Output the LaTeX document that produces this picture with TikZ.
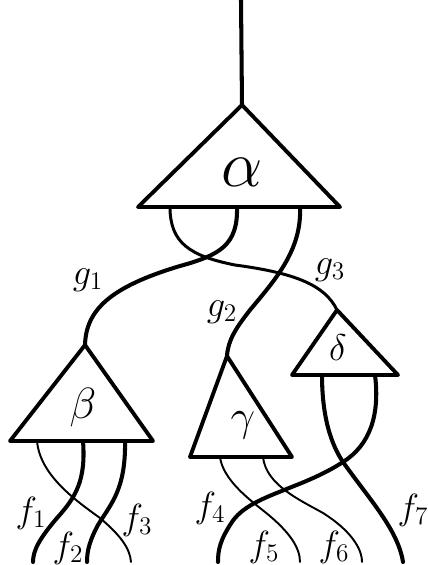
\documentclass[tikz,border=0pt]{standalone}
\usepackage{amsmath}
\usepackage{tikz}

\begin{document}
\begin{tikzpicture}[
        x=0.02cm, y=-0.02cm,
        tri/.style={line width=2.2pt, line join=round},
        strand/.style={line width=2.3pt, line cap=round},
        thinstrand/.style={line width=1.1pt, line cap=round},
        greek/.style={font=\fontsize{30}{36}\selectfont, inner sep=0pt},
        wire/.style={font=\huge, inner sep=1pt}
      ]
      \useasboundingbox (0,0) rectangle (427,565);

      \coordinate (root) at (241,0);
      \coordinate (a-top) at (242,105);
      \coordinate (a-l) at (138,207);
      \coordinate (a-r) at (340,207);
      \coordinate (a1) at (170,207);
      \coordinate (a2) at (237,207);
      \coordinate (a3) at (300,207);

      \coordinate (b-top) at (85,345);
      \coordinate (b-l) at (10,441);
      \coordinate (b-r) at (153,441);
      \coordinate (b1) at (37,441);
      \coordinate (b2) at (83,441);
      \coordinate (b3) at (125,441);

      \coordinate (c-top) at (227,356);
      \coordinate (c-l) at (190,457);
      \coordinate (c-r) at (292,457);
      \coordinate (c1) at (220,457);
      \coordinate (c2) at (263,457);

      \coordinate (d-top) at (337,310);
      \coordinate (d-l) at (292,375);
      \coordinate (d-r) at (398,375);
      \coordinate (d1) at (322,375);
      \coordinate (d2) at (375,375);

      \coordinate (out1) at (33,562);
      \coordinate (out2) at (87,562);
      \coordinate (out3) at (131,562);
      \coordinate (out4) at (218,562);
      \coordinate (out5) at (300,562);
      \coordinate (out6) at (362,562);
      \coordinate (out7) at (403,562);

      \draw[tri] (a-top) -- (a-l) -- (a-r) -- cycle;
      \draw[tri] (b-top) -- (b-l) -- (b-r) -- cycle;
      \draw[tri] (c-top) -- (c-l) -- (c-r) -- cycle;
      \draw[tri] (d-top) -- (d-l) -- (d-r) -- cycle;

      \node[greek, scale=1.5] (alpha) at (242,172) {$\alpha$};
      \node[greek] (beta) at (83,408) {$\beta$};
      \node[greek] (gamma) at (243,425) {$\gamma$};
      \node[greek, scale=0.85] (delta) at (338,348) {$\delta$};

      \draw[strand] (root) -- (a-top);

      \draw[thinstrand, line width=1.7pt] (a1) .. controls (170,243) and (190,256) .. (235,265)
        .. controls (295,273) and (325,285) .. (d-top);
      \draw[strand] (a2) .. controls (238,245) and (220,255) .. (180,266)
        .. controls (110,287) and (86,310) .. (b-top);
      \draw[strand] (a3) .. controls (302,250) and (275,280) .. (250,310)
        .. controls (236,328) and (228,340) .. (c-top);

      \draw[thinstrand] (b1) .. controls (40,475) and (75,500) .. (100,518)
        .. controls (120,535) and (130,548) .. (out3);
      \draw[strand] (b2) .. controls (86,480) and (76,497) .. (57,518)
        .. controls (40,538) and (33,550) .. (out1);
      \draw[strand] (b3) .. controls (126,490) and (110,505) .. (98,525)
        .. controls (90,540) and (87,550) .. (out2);

      \draw[thinstrand] (c1) .. controls (223,480) and (250,500) .. (265,512)
        .. controls (290,532) and (300,548) .. (out5);
      \draw[thinstrand] (c2) .. controls (266,485) and (300,500) .. (323,513)
        .. controls (350,530) and (362,548) .. (out6);

      \draw[strand] (d1) .. controls (322,425) and (335,450) .. (343,462)
        .. controls (370,500) and (398,530) .. (out7);
      \draw[strand] (d2) .. controls (380,415) and (370,445) .. (343,462)
        .. controls (300,490) and (250,495) .. (232,522)
        .. controls (220,540) and (218,550) .. (out4);

      \node[wire] (g1) at (88,280) {$g_1$};
      \node[wire] (g2) at (222,312) {$g_2$};
      \node[wire] (g3) at (330,270) {$g_3$};
      \node[wire] (f1) at (31,513) {$f_1$};
      \node[wire] (f2) at (68,548) {$f_2$};
      \node[wire] (f3) at (137,520) {$f_3$};
      \node[wire] (f4) at (210,508) {$f_4$};
      \node[wire] (f5) at (264,547) {$f_5$};
      \node[wire] (f6) at (334,547) {$f_6$};
      \node[wire] (f7) at (413,510) {$f_7$};
    \end{tikzpicture}
\end{document}
